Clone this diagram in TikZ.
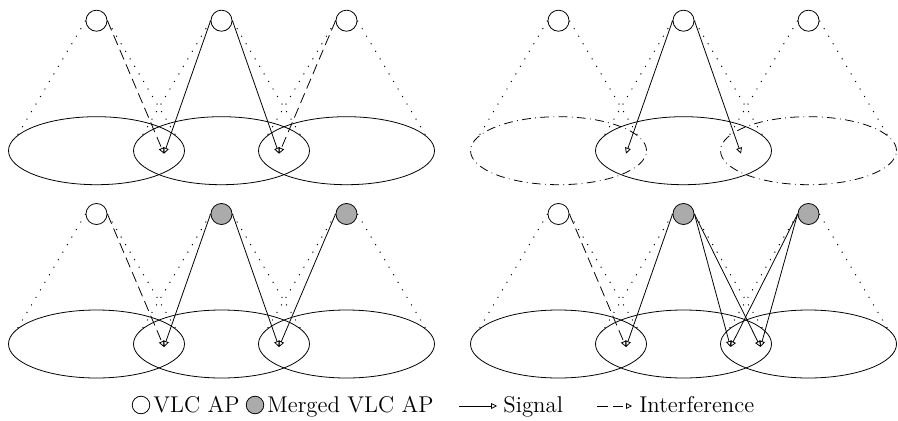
\documentclass[tikz,border=0pt]{standalone}
\usetikzlibrary{arrows.meta,calc}
\newcommand\vlcpanel[8]{%
 \begin{scope}[shift={(#2,#3)}]
  \coordinate (#1e1) at (96.5,269.3);
  \coordinate (#1e2) at (221.5,269.3);
  \coordinate (#1e3) at (346.5,269.3);
  \draw[#7] (#1e1) ellipse [x radius=88,y radius=34];
  \draw (#1e2) ellipse [x radius=88,y radius=34];
  \draw[#8] (#1e3) ellipse [x radius=88,y radius=34];
  \node[#4] (#1a1) at (96.5,399.3) {};
  \node[#5] (#1a2) at (221.5,399.3) {};
  \node[#6] (#1a3) at (346.5,399.3) {};
  \coordinate (#1L) at (164,266.3);
  \coordinate (#1R) at (279,266.3);
  \coordinate (#1Ra) at (268.5,266.3);
  \coordinate (#1Rb) at (298.5,266.3);
 \end{scope}
 \foreach \i in {1,2,3}{
  \draw[cone] (#1a\i.west) -- ($(#1e\i)+(155:88 and 34)$);
  \draw[cone] (#1a\i.east) -- ($(#1e\i)+(25:88 and 34)$);}
}
\begin{document}
\begin{tikzpicture}[x=0.57pt,y=0.57pt,line width=0.45pt,
  ap/.style={circle,draw,fill=white,minimum size=12pt,inner sep=0pt},
  merged/.style={ap,fill=black!33},
  legap/.style={ap,minimum size=10pt},
  legmerged/.style={merged,minimum size=10pt},
  cone/.style={line width=0.55pt,dash pattern=on 0.6pt off 4.4pt},
  sig/.style={-{Triangle[open,length=3.4pt,width=3.4pt]}},
  intf/.style={sig,dash pattern=on 6pt off 3pt},
  offcell/.style={dash pattern=on 5pt off 2.5pt on 0.45pt off 2.5pt},
  legtext/.style={anchor=base west,inner sep=0pt,font=\fontsize{13}{15}\selectfont}]
\useasboundingbox (0,0) rectangle (898,420);
% top-left
\vlcpanel{p}{0}{0}{ap}{ap}{ap}{}{}
\draw[sig] (pa2.west) -- (pL);
\draw[sig] (pa2.east) -- (pR);
\draw[intf] (pa1.east) -- (pL);
\draw[intf] (pa3.west) -- (pR);
% top-right
\vlcpanel{q}{462}{0}{ap}{ap}{ap}{offcell}{offcell}
\draw[sig] (qa2.west) -- (qL);
\draw[sig] (qa2.east) -- (qR);
% bottom-left
\vlcpanel{r}{0}{-193.3}{ap}{merged}{merged}{}{}
\draw[intf] (ra1.east) -- (rL);
\draw[sig] (ra2.west) -- (rL);
\draw[sig] (ra2.east) -- (rR);
\draw[sig] (ra3.west) -- (rR);
% bottom-right
\vlcpanel{s}{462}{-193.3}{ap}{merged}{merged}{}{}
\draw[intf] (sa1.east) -- (sL);
\draw[sig] (sa2.west) -- (sL);
\draw[sig] (sa2.east) -- (sRa);
\draw[sig] (sa2.east) -- (sRb);
\draw[sig] (sa3.west) -- (sRa);
\draw[sig] (sa3.west) -- (sRb);
% legend
\node[legap] (lg1) at (141,15) {};
\node[legtext] (lt1) at (153,8) {VLC AP};
\node[legmerged] (lg2) at (255,15) {};
\node[legtext] (lt2) at (267,8) {Merged VLC AP};
\coordinate (ls1) at (459,14);
\coordinate (ls2) at (497,14);
\draw[sig] (ls1) -- (ls2);
\node[legtext] (lt3) at (503,8) {Signal};
\coordinate (li1) at (597,14);
\coordinate (li2) at (632,14);
\draw[intf] (li1) -- (li2);
\node[legtext] (lt4) at (639,8) {Interference};
\end{tikzpicture}
\end{document}
